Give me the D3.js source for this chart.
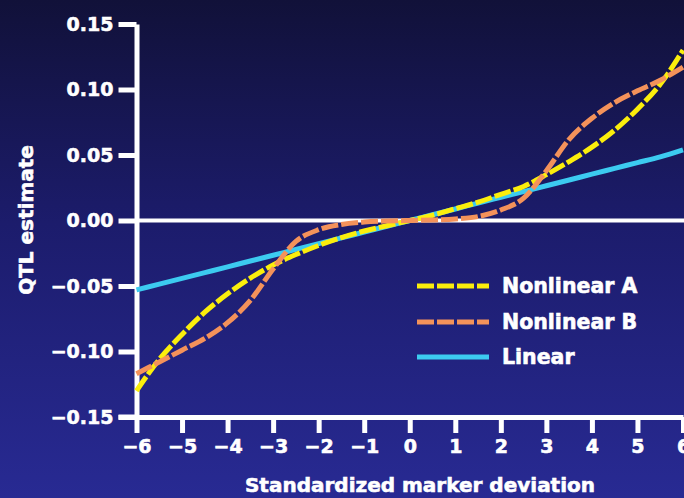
<!DOCTYPE html>
<html>
<head>
<meta charset="utf-8">
<script src="https://cdn.jsdelivr.net/npm/d3@7"></script>
<style>
  html, body { margin: 0; padding: 0; background: #1c1c6e; }
  svg { display: block; }
  text { font-family: "DejaVu Sans", sans-serif; font-weight: bold; fill: #ffffff; stroke: #ffffff; stroke-width: 0.6px; }
</style>
</head>
<body>
<svg id="chart" width="684" height="498"></svg>
<script>
// Standardized marker deviation (x) and QTL estimates for each model
const deviation = [-6, -5.5, -5, -4.5, -4, -3.5, -3, -2.5, -2, -1.5, -1, -0.5, 0,
                   0.5, 1, 1.5, 2, 2.5, 3, 3.5, 4, 4.5, 5, 5.5, 6];
const nonlinearA = [-0.130, -0.106, -0.087, -0.070, -0.056, -0.044, -0.034, -0.026, -0.019, -0.013, -0.008, -0.004, 0,
                    0.004, 0.009, 0.014, 0.020, 0.026, 0.035, 0.045, 0.056, 0.069, 0.085, 0.104, 0.130];
const nonlinearB = [-0.117, -0.108, -0.099, -0.090, -0.078, -0.061, -0.037, -0.016, -0.007, -0.003, -0.0012, -0.0004, 0,
                    0.0004, 0.0012, 0.003, 0.008, 0.017, 0.038, 0.062, 0.078, 0.090, 0.099, 0.107, 0.117];
const linear = [-0.053, -0.0486, -0.0442, -0.0398, -0.0354, -0.0309, -0.0265, -0.0221, -0.0177, -0.0133, -0.0088, -0.0044, 0,
                0.0044, 0.0088, 0.0133, 0.0177, 0.0221, 0.0265, 0.0309, 0.0354, 0.0398, 0.0442, 0.0486, 0.054];
const xTicks = [-6, -5, -4, -3, -2, -1, 0, 1, 2, 3, 4, 5, 6];
const yTicks = [-0.15, -0.10, -0.05, 0.00, 0.05, 0.10, 0.15];
const seriesNames = ["Nonlinear A", "Nonlinear B", "Linear"];
const seriesColors = ["#fbee0c", "#f4925a", "#3ccbf0"];

const svg = d3.select("#chart");
const W = 684, H = 498;

// background gradient, dark navy at the top to royal blue at the bottom
const defs = svg.append("defs");
const grad = defs.append("linearGradient").attr("id", "bg")
  .attr("x1", 0).attr("y1", 0).attr("x2", 0).attr("y2", 1);
grad.append("stop").attr("offset", "0%").attr("stop-color", "#111139");
grad.append("stop").attr("offset", "45%").attr("stop-color", "#1c1c6c");
grad.append("stop").attr("offset", "100%").attr("stop-color", "#282a93");
svg.append("rect").attr("width", W).attr("height", H).attr("fill", "url(#bg)");

const x = d3.scaleLinear().domain([-6, 6]).range([136.5, 683]);
const y = d3.scaleLinear().domain([-0.15, 0.15]).range([417, 24]);

const fmtY = v => (v < 0 ? "\u2212" : "") + Math.abs(v).toFixed(2);
const fmtX = v => (v < 0 ? "\u2212" : "") + Math.abs(v);

// y axis
const yAxis = svg.append("g").attr("transform", `translate(${x(-6)},0)`)
  .call(d3.axisLeft(y).tickValues(yTicks).tickSize(18).tickSizeOuter(0).tickPadding(5).tickFormat(fmtY));
// x axis
const xAxis = svg.append("g").attr("transform", `translate(0,${y(-0.15)})`)
  .call(d3.axisBottom(x).tickValues(xTicks).tickSize(16).tickSizeOuter(0).tickPadding(7).tickFormat(fmtX));

[yAxis, xAxis].forEach(g => {
  g.select(".domain").attr("stroke", "#ffffff").attr("stroke-width", 5).attr("stroke-linejoin", "round");
  g.selectAll(".tick line").attr("stroke", "#ffffff").attr("stroke-width", 5);
  g.selectAll(".tick text").attr("fill", "#ffffff").attr("stroke", "#ffffff").attr("stroke-width", 0.6)
    .style("font-size", "19px")
    .style("font-family", "'DejaVu Sans', sans-serif").style("font-weight", "bold");
});
// x axis line extends left under the lowest y tick
xAxis.append("line").attr("x1", x(-6) - 18).attr("x2", x(-6)).attr("y1", 0).attr("y2", 0)
  .attr("stroke", "#ffffff").attr("stroke-width", 5);

// zero reference line
svg.append("line").attr("x1", x(-6)).attr("x2", W).attr("y1", y(0)).attr("y2", y(0))
  .attr("stroke", "#ffffff").attr("stroke-width", 4);

// curves
const pts = vals => deviation.map((d, i) => [d, vals[i]]);
const line = d3.line().x(d => x(d[0])).y(d => y(d[1])).curve(d3.curveMonotoneX);
const series = [
  { vals: linear, color: seriesColors[2], dash: null },
  { vals: nonlinearA, color: seriesColors[0], dash: "17,3" },
  { vals: nonlinearB, color: seriesColors[1], dash: "17,3" }
];
series.forEach(s => {
  svg.append("path").datum(pts(s.vals)).attr("d", line)
    .attr("fill", "none").attr("stroke", s.color).attr("stroke-width", 5)
    .attr("stroke-dasharray", s.dash);
});

// legend
const legend = svg.append("g");
const legendY = [286, 322, 357];
const legendDash = ["17,3", "17,3", null];
seriesNames.forEach((name, i) => {
  legend.append("line").attr("x1", 417).attr("x2", 489).attr("y1", legendY[i]).attr("y2", legendY[i])
    .attr("stroke", seriesColors[i]).attr("stroke-width", 5).attr("stroke-dasharray", legendDash[i]);
  legend.append("text").attr("x", 502).attr("y", legendY[i]).attr("dy", "0.36em")
    .style("font-size", "20.5px").text(name);
});

// axis titles
svg.append("text").attr("x", 420).attr("y", 492).attr("text-anchor", "middle")
  .style("font-size", "20px").text("Standardized marker deviation");
svg.append("text").attr("transform", "translate(33,220) rotate(-90)").attr("text-anchor", "middle")
  .style("font-size", "20px").text("QTL estimate");
</script>
</body>
</html>
